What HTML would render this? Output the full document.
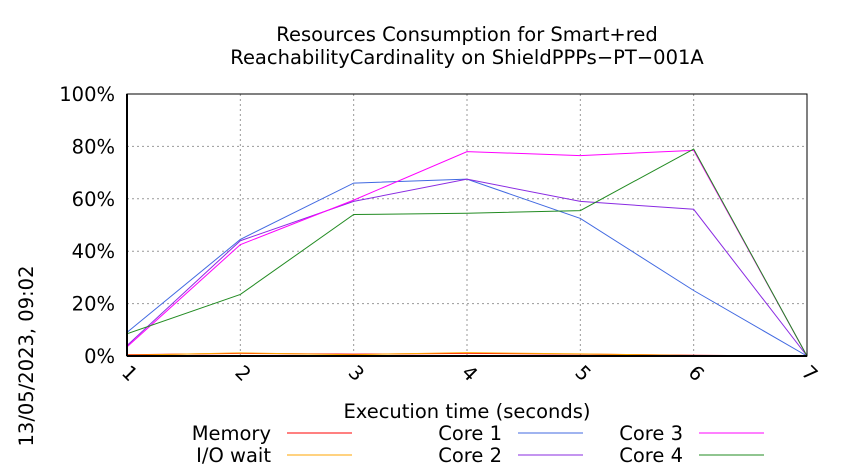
<!DOCTYPE html>
<html><head><meta charset="utf-8"><style>body{margin:0;background:#fff}svg{display:block;font-family:"DejaVu Sans","Liberation Sans",sans-serif}</style></head>
<body>
<svg id="chart" width="850" height="475" viewBox="0 0 850 475" xmlns="http://www.w3.org/2000/svg">
<text x="467" y="41" font-size="19.5" text-anchor="middle">Resources Consumption for Smart+red</text>
<text x="467" y="64" font-size="19.5" text-anchor="middle">ReachabilityCardinality on ShieldPPPs−PT−001A</text>
<text transform="translate(33,356) rotate(-90)" font-size="19.5" text-anchor="middle">13/05/2023, 09:02</text>
<text x="467" y="418" font-size="19.5" text-anchor="middle">Execution time (seconds)</text>
<g id="grid"></g><g id="series"></g><g id="axes"></g><g id="legend"></g>
</svg>
<script>
const xTicks = [1,2,3,4,5,6,7];
const yTicks = [0,20,40,60,80,100];
const memory = [0.5,1.0,0.7,1.0,0.7,0.3,0];
const ioWait = [0.3,1.2,0.5,1.3,0.8,0.2,0];
const core1 = [9,44.5,66,67.5,52.5,25,0];
const core2 = [4,44,59,67.5,59,56,0];
const core3 = [3.5,42.5,59.5,78,76.5,78.5,0];
const core4 = [8.5,23.5,54,54.5,55.5,79,0];

const NS="http://www.w3.org/2000/svg";
const X0=127,X1=807,Y0=356,Y1=94;
const xs=v=>X0+(v-1)*(X1-X0)/6;
const ys=v=>Y0-v*(Y0-Y1)/100;
function mk(tag,attrs,parent){const e=document.createElementNS(NS,tag);for(const k in attrs)e.setAttribute(k,attrs[k]);parent.appendChild(e);return e;}
const grid=document.getElementById('grid'),axes=document.getElementById('axes'),ser=document.getElementById('series'),leg=document.getElementById('legend');
yTicks.forEach(t=>{
  if(t>0&&t<100){const l=mk('line',{x1:X0,x2:X1,y1:ys(t),y2:ys(t),stroke:'#999','stroke-dasharray':'2,3','stroke-width':1},grid);
  
  }
  const tx=mk('text',{x:X0-12,y:ys(t)+7,'font-size':19.5,'text-anchor':'end'},axes);tx.textContent=t+'%';
  
  
});
xTicks.forEach(t=>{
  if(t>1&&t<7){const l=mk('line',{x1:xs(t),x2:xs(t),y1:Y1,y2:Y0,stroke:'#999','stroke-dasharray':'2,3','stroke-width':1},grid);
  
  }
  const tx=mk('text',{transform:`translate(${xs(t)-2},${Y0+22}) rotate(45)`,'font-size':19.5,'text-anchor':'middle'},axes);tx.textContent=t;
  
  
});
const frame=mk('rect',{x:X0,y:Y1,width:X1-X0,height:Y0-Y1,fill:'none',stroke:'#000','stroke-width':1},axes);


const base=mk('line',{x1:X0,x2:X1,y1:Y0,y2:Y0,stroke:'#000','stroke-width':2},axes);


const base2=mk('line',{x1:X0,x2:X0,y1:Y1,y2:Y0,stroke:'#000','stroke-width':2},axes);


const series=[
 {name:'Memory',d:memory,c:'#ff0000',lx:271,ly:433,key:'memory'},
 {name:'I/O wait',d:ioWait,c:'#ffa500',lx:271,ly:455,key:'io-wait'},
 {name:'Core 1',d:core1,c:'#4169e1',lx:502,ly:433,key:'core-1'},
 {name:'Core 2',d:core2,c:'#8a2be2',lx:502,ly:455,key:'core-2'},
 {name:'Core 3',d:core3,c:'#ff00ff',lx:683,ly:433,key:'core-3'},
 {name:'Core 4',d:core4,c:'#228b22',lx:683,ly:455,key:'core-4'}];
series.forEach(s=>{
  const p=mk('polyline',{points:s.d.map((v,i)=>xs(xTicks[i])+','+ys(v)).join(' '),fill:'none',stroke:s.c,'stroke-width':1},ser);
  
  
});
series.forEach(s=>{
  const t=mk('text',{x:s.lx,y:s.ly+7,'font-size':19.5,'text-anchor':'end'},leg);t.textContent=s.name;
  
  
  const l=mk('line',{x1:s.lx+16,x2:s.lx+81,y1:s.ly,y2:s.ly,stroke:s.c,'stroke-width':1},leg);
  
  
});
</script>
</body></html>
